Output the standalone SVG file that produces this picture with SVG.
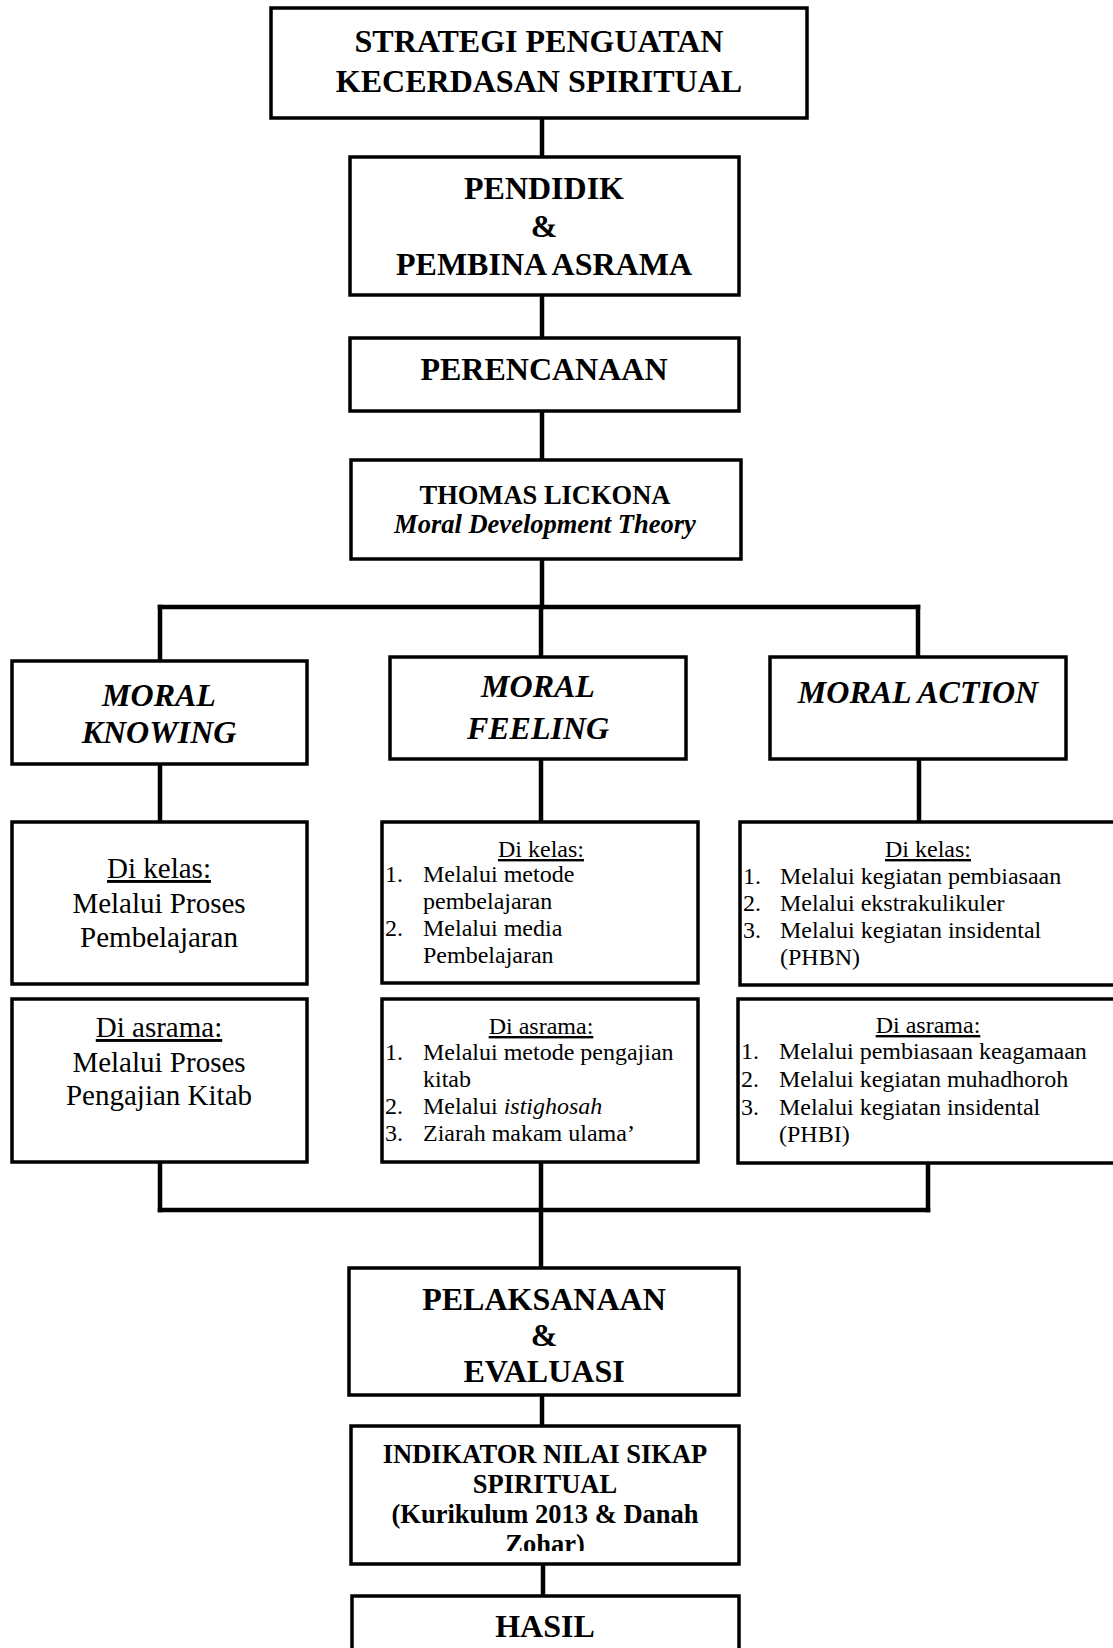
<svg xmlns="http://www.w3.org/2000/svg" width="1113" height="1648" viewBox="0 0 1113 1648">
<style>
.box{fill:#fff;stroke:#000;stroke-width:3.5}
.con line{stroke:#000;stroke-width:4.5;stroke-linecap:square}
text{font-family:"Liberation Serif","Times New Roman",serif;fill:#000}
.h{font-size:32px;font-weight:bold;text-anchor:middle}
.m{font-size:26.5px;font-weight:bold;text-anchor:middle}
.mi{font-size:32px;font-weight:bold;font-style:italic;text-anchor:middle}
.k{font-size:29px;text-anchor:middle}
.s{font-size:24px}
.c{text-anchor:middle}
.u{text-decoration:underline}
</style>
<defs>
<clipPath id="clipInd"><rect x="352" y="1428" width="386" height="123"/></clipPath>
</defs>
<rect width="1113" height="1648" fill="#fff"/>
<g id="connectors" class="con">
<line x1="542" y1="118" x2="542" y2="158"/>
<line x1="542" y1="295" x2="542" y2="338"/>
<line x1="542" y1="411" x2="542" y2="460"/>
<line x1="542" y1="559" x2="542" y2="607"/>
<line x1="160" y1="607" x2="918" y2="607"/>
<line x1="160" y1="607" x2="160" y2="661"/>
<line x1="541" y1="607" x2="541" y2="657"/>
<line x1="918" y1="607" x2="918" y2="657"/>
<line x1="160" y1="764" x2="160" y2="822"/>
<line x1="541" y1="759" x2="541" y2="822"/>
<line x1="919" y1="759" x2="919" y2="822"/>
<line x1="160" y1="1162" x2="160" y2="1210"/>
<line x1="928" y1="1163" x2="928" y2="1210"/>
<line x1="160" y1="1210" x2="928" y2="1210"/>
<line x1="541" y1="1162" x2="541" y2="1268"/>
<line x1="542" y1="1395" x2="542" y2="1426"/>
<line x1="543" y1="1564" x2="543" y2="1596"/>
</g>
<g id="n-strategi">
<rect class="box" x="271" y="8" width="536" height="110"/>
<text class="h" x="539" y="52">STRATEGI PENGUATAN</text>
<text class="h" x="539" y="92">KECERDASAN SPIRITUAL</text>
</g>
<g id="n-pendidik">
<rect class="box" x="350" y="157" width="389" height="138"/>
<text class="h" x="544" y="199">PENDIDIK</text>
<text class="h" x="544" y="237">&amp;</text>
<text class="h" x="544" y="275">PEMBINA ASRAMA</text>
</g>
<g id="n-perencanaan">
<rect class="box" x="350" y="338" width="389" height="73"/>
<text class="h" x="544" y="380">PERENCANAAN</text>
</g>
<g id="n-thomas">
<rect class="box" x="351" y="460" width="390" height="99"/>
<text class="m" x="545" y="504" font-size="26">THOMAS LICKONA</text>
<text class="m" x="545" y="533" font-style="italic">Moral Development Theory</text>
</g>
<g id="n-knowing">
<rect class="box" x="12" y="661" width="295" height="103"/>
<text class="mi" x="159" y="706">MORAL</text>
<text class="mi" x="159" y="743">KNOWING</text>
</g>
<g id="n-feeling">
<rect class="box" x="390" y="657" width="296" height="102"/>
<text class="mi" x="538" y="697">MORAL</text>
<text class="mi" x="538" y="739">FEELING</text>
</g>
<g id="n-action">
<rect class="box" x="770" y="657" width="296" height="102"/>
<text class="mi" x="918" y="703">MORAL ACTION</text>
</g>
<g id="n-knowing-kelas">
<rect class="box" x="12" y="822" width="295" height="162"/>
<text class="k u" x="159" y="878">Di kelas:</text>
<text class="k" x="159" y="913">Melalui Proses</text>
<text class="k" x="159" y="947">Pembelajaran</text>
</g>
<g id="n-knowing-asrama">
<rect class="box" x="12" y="999" width="295" height="163"/>
<text class="k u" x="159" y="1037">Di asrama:</text>
<text class="k" x="159" y="1072">Melalui Proses</text>
<text class="k" x="159" y="1105">Pengajian Kitab</text>
</g>
<g id="n-feeling-kelas" class="s">
<rect class="box" x="382" y="822" width="316" height="161"/>
<text class="s c u" x="541" y="857">Di kelas:</text>
<text class="s" x="385" y="882">1.</text><text class="s" x="423" y="882">Melalui metode</text>
<text class="s" x="423" y="909">pembelajaran</text>
<text class="s" x="385" y="936">2.</text><text class="s" x="423" y="936">Melalui media</text>
<text class="s" x="423" y="963">Pembelajaran</text>
</g>
<g id="n-feeling-asrama">
<rect class="box" x="382" y="999" width="316" height="163"/>
<text class="s c u" x="541" y="1034">Di asrama:</text>
<text class="s" x="385" y="1060">1.</text><text class="s" x="423" y="1060">Melalui metode pengajian</text>
<text class="s" x="423" y="1087">kitab</text>
<text class="s" x="385" y="1114">2.</text><text class="s" x="423" y="1114">Melalui <tspan font-style="italic">istighosah</tspan></text>
<text class="s" x="385" y="1141">3.</text><text class="s" x="423" y="1141">Ziarah makam ulama’</text>
</g>
<g id="n-action-kelas">
<rect class="box" x="740" y="822" width="385" height="163"/>
<text class="s c u" x="928" y="857">Di kelas:</text>
<text class="s" x="743" y="884">1.</text><text class="s" x="780" y="884">Melalui kegiatan pembiasaan</text>
<text class="s" x="743" y="911">2.</text><text class="s" x="780" y="911">Melalui ekstrakulikuler</text>
<text class="s" x="743" y="938">3.</text><text class="s" x="780" y="938">Melalui kegiatan insidental</text>
<text class="s" x="780" y="965">(PHBN)</text>
</g>
<g id="n-action-asrama">
<rect class="box" x="738" y="999" width="387" height="164"/>
<text class="s c u" x="928" y="1033">Di asrama:</text>
<text class="s" x="741" y="1059">1.</text><text class="s" x="779" y="1059">Melalui pembiasaan keagamaan</text>
<text class="s" x="741" y="1087">2.</text><text class="s" x="779" y="1087">Melalui kegiatan muhadhoroh</text>
<text class="s" x="741" y="1115">3.</text><text class="s" x="779" y="1115">Melalui kegiatan insidental</text>
<text class="s" x="779" y="1142">(PHBI)</text>
</g>
<g id="n-pelaksanaan">
<rect class="box" x="349" y="1268" width="390" height="127"/>
<text class="h" x="544" y="1310">PELAKSANAAN</text>
<text class="h" x="544" y="1346">&amp;</text>
<text class="h" x="544" y="1382">EVALUASI</text>
</g>
<g id="n-indikator">
<rect class="box" x="351" y="1426" width="388" height="138"/>
<g clip-path="url(#clipInd)">
<text class="m" x="545" y="1463">INDIKATOR NILAI SIKAP</text>
<text class="m" x="545" y="1493">SPIRITUAL</text>
<text class="m" x="545" y="1523">(Kurikulum 2013 &amp; Danah</text>
<text class="m" x="545" y="1553">Zohar)</text>
</g>
</g>
<g id="n-hasil">
<rect class="box" x="352" y="1596" width="387" height="70"/>
<text class="h" x="545" y="1637">HASIL</text>
</g>
</svg>
